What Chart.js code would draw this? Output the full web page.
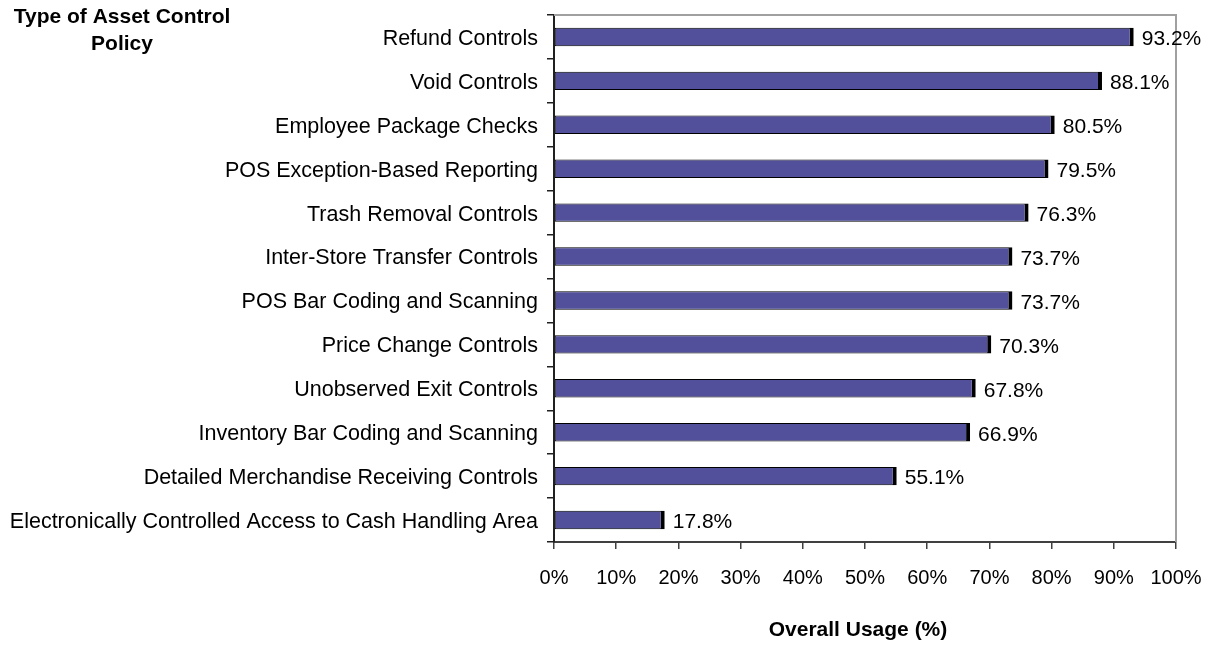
<!DOCTYPE html>
<html lang="en">
<head>
    <meta charset="UTF-8">
    <title>Asset Control Policy Usage</title>
    <script src="https://cdn.jsdelivr.net/npm/chart.js"></script>
    <style>
        html, body {
            margin: 0;
            padding: 0;
            background: #ffffff;
        }
        #wrap {
            width: 1211px;
            height: 645px;
        }
    </style>
</head>
<body>
    <div id="wrap">
        <canvas id="usage-chart" width="1211" height="645"></canvas>
    </div>

    <script>
        // Policies, top to bottom
        const policies = [
            'Refund Controls',
            'Void Controls',
            'Employee Package Checks',
            'POS Exception-Based Reporting',
            'Trash Removal Controls',
            'Inter-Store Transfer Controls',
            'POS Bar Coding and Scanning',
            'Price Change Controls',
            'Unobserved Exit Controls',
            'Inventory Bar Coding and Scanning',
            'Detailed Merchandise Receiving Controls',
            'Electronically Controlled Access to Cash Handling Area'
        ];

        // Overall usage in percent
        const usage = [93.2, 88.1, 80.5, 79.5, 76.3, 73.7, 73.7, 70.3, 67.8, 66.9, 55.1, 17.8];

        const xTicks = [0, 10, 20, 30, 40, 50, 60, 70, 80, 90, 100];

        const fontFamily = "Arial, 'Liberation Sans', sans-serif";

        // value labels at the end of each bar
        const valueLabels = {
            id: 'valueLabels',
            afterDatasetsDraw(chart) {
                const ctx = chart.ctx;
                const meta = chart.getDatasetMeta(0);
                ctx.save();
                ctx.font = '21px ' + fontFamily;
                ctx.fillStyle = '#000000';
                ctx.textAlign = 'left';
                ctx.textBaseline = 'middle';
                meta.data.forEach((bar, i) => {
                    ctx.fillText(usage[i].toFixed(1) + '%', bar.x + 8, bar.y + 2.5);
                });
                ctx.restore();
            }
        };

        // grey frame on top and right of the plot, the category heading and the axis title
        const frameAndHeading = {
            id: 'frameAndHeading',
            beforeDatasetsDraw(chart) {
                const ctx = chart.ctx;
                const a = chart.chartArea;
                ctx.save();
                ctx.strokeStyle = '#a0a0a0';
                ctx.lineWidth = 2;
                ctx.beginPath();
                ctx.moveTo(a.left, a.top);
                ctx.lineTo(a.right, a.top);
                ctx.lineTo(a.right, a.bottom);
                ctx.stroke();
                ctx.restore();
            },
            afterDraw(chart) {
                const ctx = chart.ctx;
                ctx.save();
                ctx.font = 'bold 21px ' + fontFamily;
                ctx.fillStyle = '#000000';
                ctx.textAlign = 'center';
                ctx.textBaseline = 'middle';
                ctx.fillText('Type of Asset Control', 122, 17);
                ctx.fillText('Policy', 122, 44);
                ctx.fillText('Overall Usage (%)', 858, 630);
                ctx.restore();
            }
        };

        new Chart(document.getElementById('usage-chart'), {
            type: 'bar',
            data: {
                labels: policies,
                datasets: [{
                    data: usage,
                    backgroundColor: '#524f9b',
                    borderColor: '#000000',
                    borderWidth: { top: 1, bottom: 1, left: 1, right: 4 },
                    borderSkipped: false,
                    barPercentage: 0.42,
                    categoryPercentage: 1.0
                }]
            },
            options: {
                indexAxis: 'y',
                responsive: false,
                animation: false,
                layout: {
                    padding: { top: 15, right: 35, bottom: 0, left: 0 }
                },
                plugins: {
                    legend: { display: false },
                    tooltip: { enabled: false }
                },
                scales: {
                    x: {
                        min: 0,
                        max: 100,
                        afterBuildTicks(scale) {
                            scale.ticks = xTicks.map(v => ({ value: v }));
                        },
                        afterFit(scale) {
                            scale.height = 103;
                            scale.paddingLeft = 0;
                            scale.paddingRight = 0;
                        },
                        border: { color: '#404040', width: 2 },
                        grid: {
                            drawOnChartArea: false,
                            tickLength: 7,
                            color: '#404040',
                            lineWidth: 1.5
                        },
                        ticks: {
                            padding: 17,
                            color: '#000000',
                            font: { family: fontFamily, size: 20 },
                            callback: v => v + '%'
                        }
                    },
                    y: {
                        afterFit(scale) {
                            scale.width = 554;
                            scale.paddingTop = 0;
                            scale.paddingBottom = 0;
                        },
                        border: { color: '#202020', width: 2 },
                        grid: {
                            drawOnChartArea: false,
                            offset: true,
                            tickLength: 7,
                            color: '#202020',
                            lineWidth: 1.5
                        },
                        ticks: {
                            padding: 9,
                            labelOffset: 2,
                            color: '#000000',
                            autoSkip: false,
                            font: { family: fontFamily, size: 21.5 }
                        }
                    }
                }
            },
            plugins: [valueLabels, frameAndHeading]
        });
    </script>
</body>
</html>
